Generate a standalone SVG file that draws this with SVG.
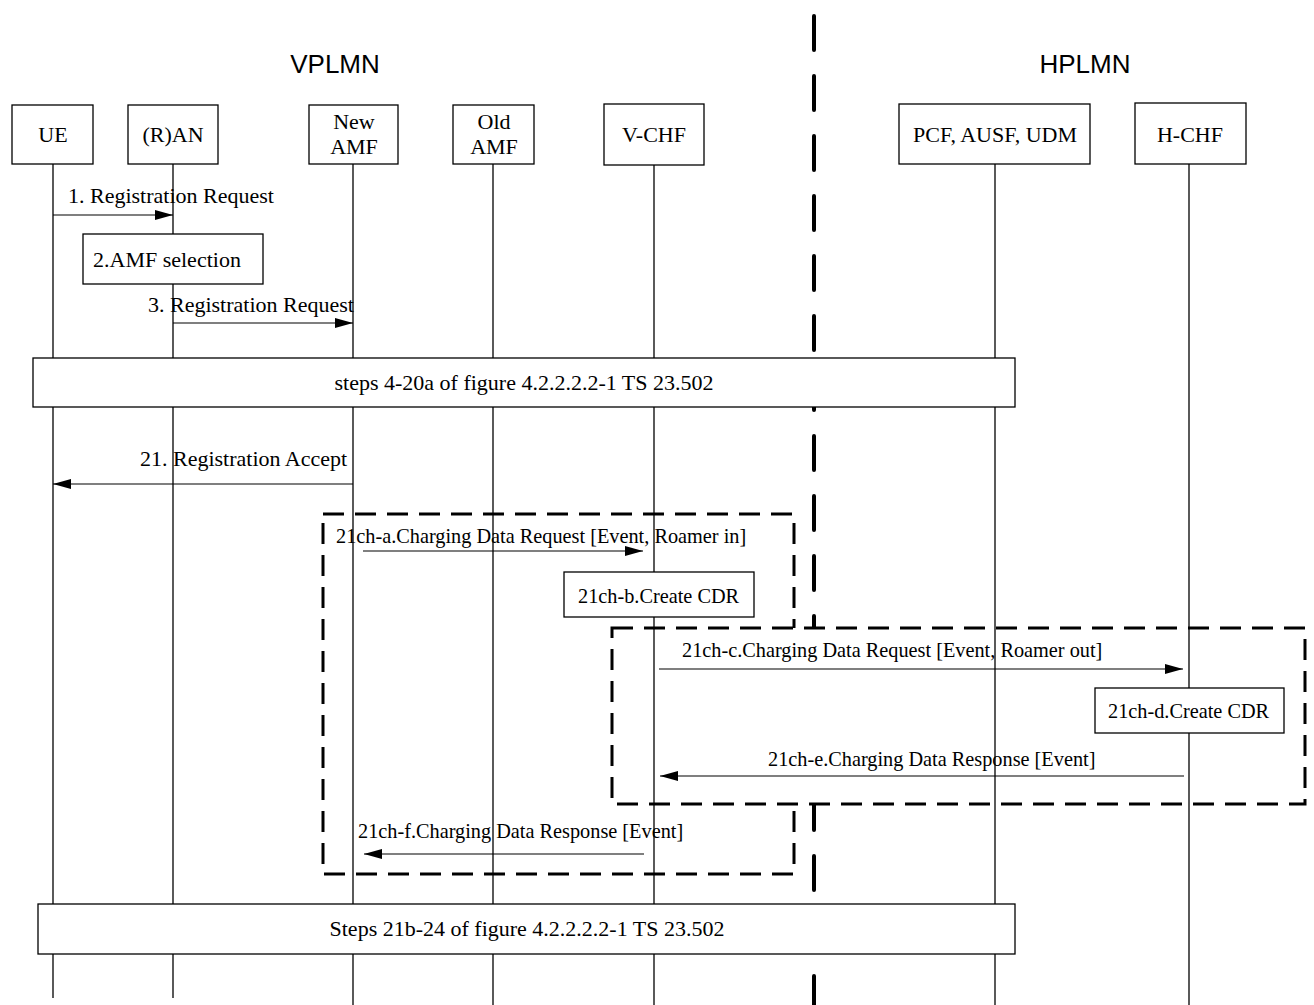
<svg xmlns="http://www.w3.org/2000/svg" width="1314" height="1005" viewBox="0 0 1314 1005">
<style>
text{font-family:"Liberation Serif","Times New Roman",serif;fill:#000}
.t22{font-size:22px}
.t20{font-size:20.3px}
.title{font-family:"Liberation Sans",Arial,sans-serif;font-size:26px;text-anchor:middle}
.c{text-anchor:middle}
.box{fill:#fff;stroke:#000;stroke-width:1.3}
.life{stroke:#000;stroke-width:1.3;fill:none}
.msg{stroke:#000;stroke-width:1.2;fill:none;marker-end:url(#ah)}
.frame{stroke:#000;stroke-width:3;stroke-dasharray:21 11;}
</style>
<defs>
<marker id="ah" markerWidth="18" markerHeight="10" refX="18" refY="5" orient="auto" markerUnits="userSpaceOnUse">
<path d="M0,0 L18,5 L0,10 Z" fill="#000"/>
</marker>
</defs>
<rect width="1314" height="1005" fill="#fff"/>
<text class="title" x="335" y="73">VPLMN</text>
<text class="title" x="1085" y="73">HPLMN</text>
<g id="separator">
<line x1="814" y1="16" x2="814" y2="1005" stroke="#000" stroke-width="4" stroke-linecap="round" stroke-dasharray="34 26"/>
</g>
<g id="frame-a">
<rect class="frame" x="323" y="514" width="471" height="360" fill="none"/>
</g>
<g id="frame-b">
<rect class="frame" x="612" y="628" width="693" height="176" fill="#fff"/>
</g>
<g id="lifelines">
<line class="life" x1="53" y1="164" x2="53" y2="998"/>
<line class="life" x1="173" y1="164" x2="173" y2="998"/>
<line class="life" x1="353" y1="164" x2="353" y2="1005"/>
<line class="life" x1="493" y1="164" x2="493" y2="1005"/>
<line class="life" x1="654" y1="165" x2="654" y2="1005"/>
<line class="life" x1="995" y1="164" x2="995" y2="1005"/>
<line class="life" x1="1189" y1="164" x2="1189" y2="1005"/>
</g>
<g id="UE"><rect class="box" x="12" y="105" width="81" height="59"/><text class="t22 c" x="53" y="142">UE</text></g>
<g id="RAN"><rect class="box" x="128" y="105" width="90" height="59"/><text class="t22 c" x="173" y="142">(R)AN</text></g>
<g id="NewAMF"><rect class="box" x="309" y="105" width="89" height="59"/><text class="t22 c" x="354" y="129">New</text><text class="t22 c" x="354" y="154">AMF</text></g>
<g id="OldAMF"><rect class="box" x="453" y="105" width="81" height="59"/><text class="t22 c" x="494" y="129">Old</text><text class="t22 c" x="494" y="154">AMF</text></g>
<g id="VCHF"><rect class="box" x="604" y="104" width="100" height="61"/><text class="t22 c" x="654" y="142">V-CHF</text></g>
<g id="PCF"><rect class="box" x="899" y="104" width="191" height="60"/><text class="t22 c" x="995" y="142">PCF, AUSF, UDM</text></g>
<g id="HCHF"><rect class="box" x="1135" y="103" width="111" height="61"/><text class="t22 c" x="1190" y="142">H-CHF</text></g>
<g id="step2"><rect class="box" x="83" y="234" width="180" height="50"/><text class="t22" x="93" y="267">2.AMF selection</text></g>
<g id="steps4-20a"><rect class="box" x="33" y="358" width="982" height="49"/><text class="t22 c" x="524" y="390">steps 4-20a of figure 4.2.2.2.2-1 TS 23.502</text></g>
<g id="step21ch-b"><rect class="box" x="564" y="572" width="190" height="45"/><text class="t20" x="578" y="603">21ch-b.Create CDR</text></g>
<g id="step21ch-d"><rect class="box" x="1095" y="688" width="189" height="45"/><text class="t20" x="1108" y="718">21ch-d.Create CDR</text></g>
<g id="steps21b-24"><rect class="box" x="38" y="904" width="977" height="50"/><text class="t22 c" x="527" y="936">Steps 21b-24 of figure 4.2.2.2.2-1 TS 23.502</text></g>
<g id="connectors">
<line class="msg" x1="53" y1="215" x2="173" y2="215"/>
<text class="t22" x="68" y="203">1. Registration Request</text>
<line class="msg" x1="173" y1="323" x2="353" y2="323"/>
<text class="t22" x="148" y="312">3. Registration Request</text>
<line class="msg" x1="353" y1="484" x2="53" y2="484"/>
<text class="t22" x="140" y="466">21. Registration Accept</text>
<line class="msg" x1="363" y1="551" x2="643" y2="551"/>
<text class="t20" x="336" y="543">21ch-a.Charging Data Request [Event, Roamer in]</text>
<line class="msg" x1="659" y1="669" x2="1183" y2="669"/>
<text class="t20" x="682" y="657">21ch-c.Charging Data Request [Event, Roamer out]</text>
<line class="msg" x1="1184" y1="776" x2="660" y2="776"/>
<text class="t20" x="768" y="766">21ch-e.Charging Data Response [Event]</text>
<line class="msg" x1="644" y1="854" x2="364" y2="854"/>
<text class="t20" x="358" y="838">21ch-f.Charging Data Response [Event]</text>
</g>
</svg>
